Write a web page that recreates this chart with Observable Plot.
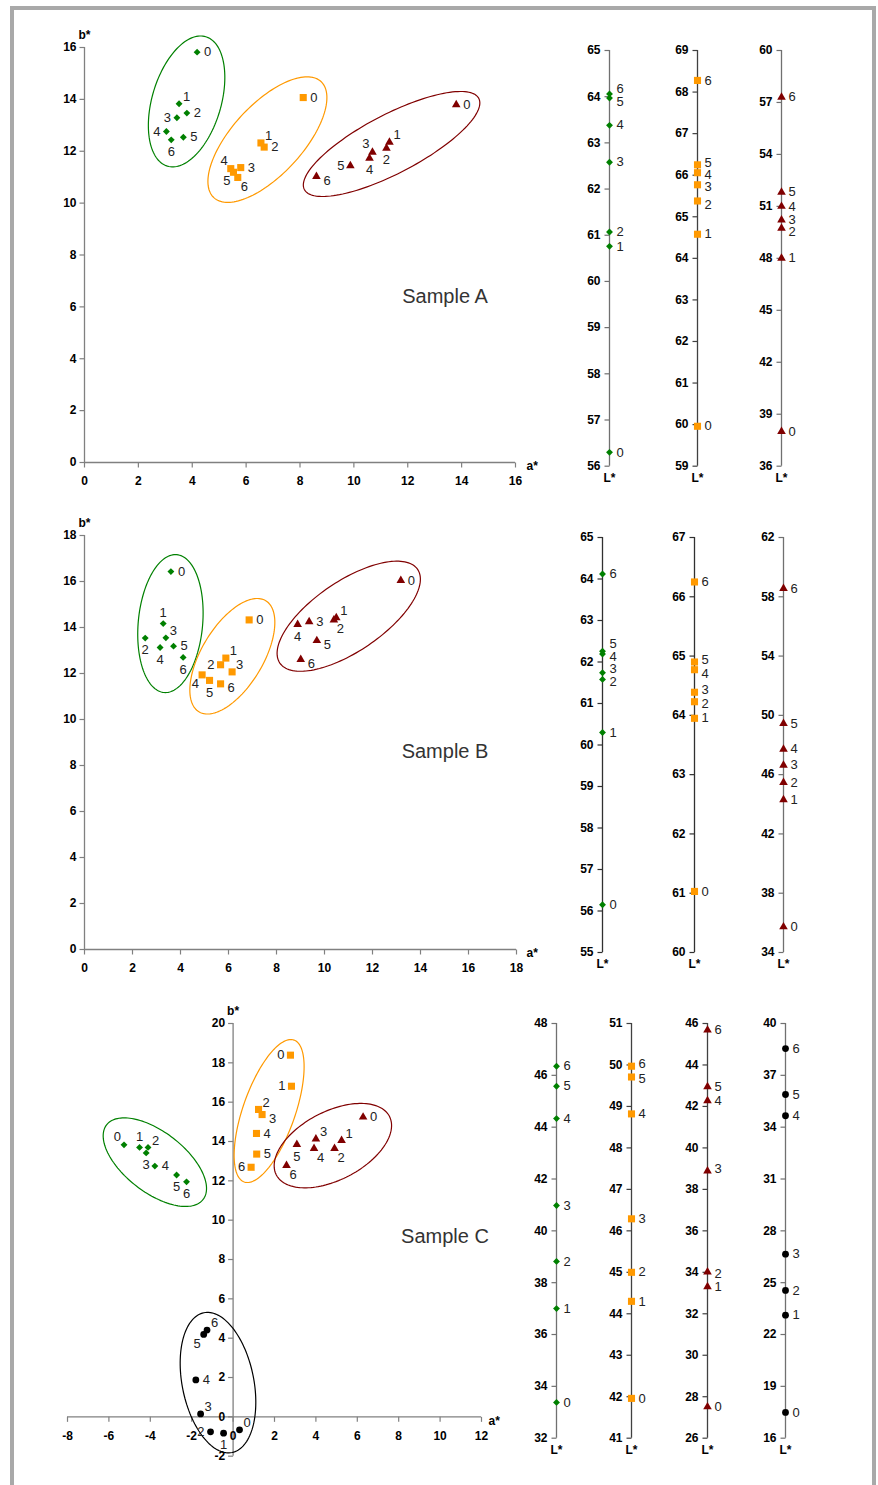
<!DOCTYPE html>
<html><head><meta charset="utf-8">
<script src="https://cdn.jsdelivr.net/npm/d3@7"></script>
<script src="https://cdn.jsdelivr.net/npm/@observablehq/plot@0.6"></script>
<style>
body{margin:0;background:#fff;font-family:"Liberation Sans",Arial,sans-serif;}
#page{position:relative;width:878px;height:1485px;overflow:hidden;background:#fff}
.frame{position:absolute;left:10px;top:6px;width:866px;height:1520px;border:4px solid #a9a9a9;box-sizing:border-box}
.panel{position:absolute}
.panel svg{max-width:none!important;overflow:visible}
.sample{position:absolute;font-size:20px;color:#333;transform:translate(-50%,-50%);white-space:nowrap}
</style></head><body><div id="page"><div class="frame"></div></div>
<script>
// ---------------- DATA ----------------
const pointLabels = ["0","1","2","3","4","5","6"];

// Sample A (a*, b*, L*)
const A_green_a  = [4.18,3.51,3.80,3.43,3.04,3.67,3.22];
const A_green_b  = [15.82,13.83,13.47,13.29,12.76,12.54,12.44];
const A_orange_a = [8.12,6.55,6.67,5.80,5.43,5.53,5.69];
const A_orange_b = [14.07,12.32,12.16,11.37,11.33,11.19,10.99];
const A_red_a    = [13.80,11.32,11.21,10.69,10.58,9.87,8.61];
const A_red_b    = [13.79,12.35,12.12,11.96,11.73,11.44,11.03];
const A_green_L  = [56.30,60.76,61.07,62.58,63.38,63.97,64.06];
const A_orange_L = [59.96,64.58,65.38,65.77,66.06,66.25,68.28];
const A_red_L    = [38.0,48.01,49.74,50.22,51.0,51.82,57.3];

// Sample B
const B_green_a  = [3.60,3.28,2.53,3.39,3.15,3.71,4.11];
const B_green_b  = [16.43,14.17,13.54,13.55,13.13,13.19,12.70];
const B_orange_a = [6.86,5.89,5.67,6.15,4.90,5.21,5.67];
const B_orange_b = [14.33,12.67,12.38,12.07,11.94,11.70,11.55];
const B_red_a    = [13.18,10.49,10.39,9.36,8.88,9.68,9.01];
const B_red_b    = [16.04,14.42,14.33,14.25,14.13,13.43,12.61];
const B_green_L  = [56.15,60.30,61.58,61.74,62.19,62.26,64.12];
const B_orange_L = [61.03,63.95,64.23,64.39,64.77,64.90,66.25];
const B_red_L    = [35.73,44.30,45.47,46.64,47.72,49.45,58.56];

// Sample C
const C_green_a  = [-5.27,-4.52,-4.11,-4.20,-3.78,-2.73,-2.25];
const C_green_b  = [13.83,13.70,13.70,13.42,12.75,12.30,11.95];
const C_orange_a = [2.77,2.82,1.23,1.40,1.13,1.14,0.87];
const C_orange_b = [18.39,16.81,15.63,15.37,14.41,13.36,12.69];
const C_red_a    = [6.28,5.24,4.90,4.00,3.91,3.08,2.58];
const C_red_b    = [15.24,14.05,13.64,14.13,13.64,13.85,12.78];
const C_black_a  = [0.31,-0.46,-1.09,-1.57,-1.80,-1.42,-1.26];
const C_black_b  = [-0.66,-0.83,-0.76,0.15,1.88,4.19,4.41];
const C_green_L  = [33.38,37.00,38.82,40.98,44.33,45.58,46.35];
const C_orange_L = [41.96,44.30,45.00,46.29,48.82,49.71,49.97];
const C_red_L    = [27.51,33.30,34.02,38.89,42.27,42.95,45.68];
const C_black_L  = [17.49,23.12,24.55,26.65,34.66,35.89,38.55];

// Tick labels
const A_a_ticks = [0,2,4,6,8,10,12,14,16];
const A_b_ticks = [0,2,4,6,8,10,12,14,16];
const B_a_ticks = [0,2,4,6,8,10,12,14,16,18];
const B_b_ticks = [0,2,4,6,8,10,12,14,16,18];
const C_a_ticks = [-8,-6,-4,-2,0,2,4,6,8,10,12];
const C_b_ticks = [-2,0,2,4,6,8,10,12,14,16,18,20];
const A_L_ticks = [[56,57,58,59,60,61,62,63,64,65],[59,60,61,62,63,64,65,66,67,68,69],[36,39,42,45,48,51,54,57,60]];
const B_L_ticks = [[55,56,57,58,59,60,61,62,63,64,65],[60,61,62,63,64,65,66,67],[34,38,42,46,50,54,58,62]];
const C_L_ticks = [[32,34,36,38,40,42,44,46,48],[41,42,43,44,45,46,47,48,49,50,51],[26,28,30,32,34,36,38,40,42,44,46],[16,19,22,25,28,31,34,37,40]];

// Label placement (relative to marker)
const A_green_pos  = ["r","tr","r","l","l","r","b"];
const A_orange_pos = ["r","tr","r","r","tl","bl","br"];
const A_red_pos    = ["r","tr","b","tl","b","l","rd"];
const B_green_pos  = ["r","t","b","tr","b","r","b"];
const B_orange_pos = ["r","tr","l","tr","bl","b","rd"];
const B_red_pos    = ["r","tr","br","r","b","rd","rd"];
const C_green_pos  = ["tl","t","tr","b","r","b","b"];
const C_orange_pos = ["l","l","tr","rd","r","r","l"];
const C_red_pos    = ["r","tr","br","tr","br","b","br"];
const C_black_pos  = ["tr","b","l","tr","r","bl","tr"];
const A_L_pos = [["r","r","r","r","r","rd","ru"],["r","r","rd","rd1","rd1","ru1","r"],["r","r","rd","r","r","r","r"]];
const B_L_pos = [["r","r","rd1","ru3","rd3","ru2","r"],["r","r","rd1","ru1","rd","ru1","r"],["r","r","r","r","r","r","r"]];
const C_L_pos = [["r","r","r","r","r","r","r"],["r","r","r","r","r","rd1","ru1"],["r","r","rd1","ru1","r","r","r"],["r","r","r","r","r","r","r"]];

// Cluster ellipses: centre (a*, b*), semi-axes (px), rotation (deg)
const A_ellipses = [
  {a:3.79,b:13.92,rx:67.5,ry:34.5,rot:-73.5,color:"green"},
  {a:6.79,b:12.45,rx:79,ry:35.2,rot:-47.3,color:"orange"},
  {a:11.40,b:12.28,rx:98.4,ry:29.4,rot:-27.6,color:"red"}];
const B_ellipses = [
  {a:3.58,b:14.17,rx:69.2,ry:32.2,rot:-84.7,color:"green"},
  {a:6.16,b:12.75,rx:64.8,ry:30.7,rot:-59,color:"orange"},
  {a:11.01,b:14.49,rx:83.3,ry:35,rot:-34.2,color:"red"}];
const C_ellipses = [
  {a:-3.78,b:12.95,rx:61,ry:30.2,rot:37.7,color:"green"},
  {a:1.74,b:15.55,rx:75.2,ry:26.1,rot:-70.7,color:"orange"},
  {a:4.82,b:13.79,rx:63.7,ry:34.2,rot:-27.4,color:"red"},
  {a:-0.73,b:1.74,rx:71.3,ry:35.8,rot:78.6,color:"black"}];

// ---------------- STYLE ----------------
const FONT = '"Liberation Sans", Arial, sans-serif';
const COLORS = {green:"#008000", orange:"#ff9900", red:"#800000", black:"#000000"};
const SYMS = {green:["diamond2",3.1], orange:["square",4], red:["triangle",3.2], black:["circle",3.4]};
const AXIS = "#808080";
const TICKFS = 12, LABELFS = 13;
const OFF = {r:[7,0,"start"], l:[-6,0,"end"], t:[0,-11,"middle"], b:[0,12,"middle"],
  tr:[4,-7,"start"], br:[3,9,"start"], tl:[-3,-8,"end"], bl:[-3,9,"end"],
  ru:[7,-5,"start"], rd:[7,4,"start"], ru1:[7,-2,"start"], rd1:[7,2,"start"],
  ru2:[7,-7,"start"], ru3:[7,-3.5,"start"], rd3:[7,3,"start"]};

const tickDown = {draw(c){c.moveTo(0,0);c.lineTo(0,5);}};
const tickLeft = {draw(c){c.moveTo(0,0);c.lineTo(-5,0);}};
function ellipseSym(rx, ry, rot){
  const t = rot*Math.PI/180, cs = Math.cos(t), sn = Math.sin(t);
  return {draw(ctx){
    for (let i = 0; i <= 144; i++){
      const u = i/144*2*Math.PI;
      const x = rx*Math.cos(u)*cs - ry*Math.sin(u)*sn;
      const y = rx*Math.cos(u)*sn + ry*Math.sin(u)*cs;
      i ? ctx.lineTo(x,y) : ctx.moveTo(x,y);
    }
    ctx.closePath();
  }};
}
function labelMarks(data, xAcc, yAcc){
  return Object.entries(OFF).map(([k,[dx,dy,anchor]]) =>
    Plot.text(data.filter(d => d.pos === k), {x: xAcc, y: yAcc, text: "label", dx, dy,
      textAnchor: anchor, fontSize: LABELFS, fill: "#222"}));
}
const page = document.getElementById("page");
function place(svg, left, top, w){
  const div = document.createElement("div");
  div.className = "panel";
  div.style.left = left + "px"; div.style.top = top + "px"; div.style.width = w + "px";
  div.appendChild(svg); page.appendChild(div);
}

function scatter({xL, xR, yT, yB, xDomain, yDomain, xTicks, yTicks, series, ellipses, aDx}){
  const ml = 45, mr = 45, mt = 25, mb = 30;
  const width = ml + (xR - xL) + mr, height = mt + (yB - yT) + mb;
  const marks = [];
  marks.push(Plot.ruleX([0], {stroke: AXIS, strokeWidth: 1.3}));
  marks.push(Plot.ruleY([0], {stroke: AXIS, strokeWidth: 1.3}));
  marks.push(Plot.dot(xTicks, {x: d => d, y: () => 0, symbol: tickDown, fill: "none", stroke: AXIS, strokeWidth: 1.2}));
  marks.push(Plot.dot(yTicks, {x: () => 0, y: d => d, symbol: tickLeft, fill: "none", stroke: AXIS, strokeWidth: 1.2}));
  marks.push(Plot.text(xTicks, {x: d => d, y: () => 0, text: d => String(d), dy: 19, fontWeight: "bold", fontSize: TICKFS, fill: "#000"}));
  marks.push(Plot.text(yTicks, {x: () => 0, y: d => d, text: d => String(d), dx: -8, textAnchor: "end", fontWeight: "bold", fontSize: TICKFS, fill: "#000"}));
  marks.push(Plot.text(["a*"], {x: () => xDomain[1], y: () => 0, text: d => d, dx: aDx, dy: 4, textAnchor: "start", fontWeight: "bold", fontSize: TICKFS}));
  marks.push(Plot.text(["b*"], {x: () => 0, y: () => yDomain[1], text: d => d, dy: -12, fontWeight: "bold", fontSize: TICKFS}));
  for (const e of ellipses){
    marks.push(Plot.dot([e], {x: "a", y: "b", symbol: ellipseSym(e.rx, e.ry, e.rot), r: 5,
      fill: "none", stroke: COLORS[e.color], strokeWidth: 1.2}));
  }
  for (const s of series){
    const data = s.a.map((a, i) => ({a, b: s.b[i], label: pointLabels[i], pos: s.pos[i]}));
    const [sym, r] = SYMS[s.color];
    marks.push(Plot.dot(data, {x: "a", y: "b", symbol: sym, r, fill: COLORS[s.color], stroke: "none"}));
    marks.push(...labelMarks(data, "a", "b"));
  }
  const svg = Plot.plot({width, height, marginLeft: ml, marginRight: mr, marginTop: mt, marginBottom: mb,
    x: {domain: xDomain, axis: null}, y: {domain: yDomain, axis: null},
    style: {fontFamily: FONT, background: "transparent", overflow: "visible"}, marks});
  place(svg, xL - ml, yT - mt, width);
}

function lstar({axisX, yT, yB, domain, ticks, values, pos, color, axisColor}){
  const ml = 40, mr = 30, mt = 12, mb = 25;
  const width = ml + mr + 10, height = mt + (yB - yT) + mb;
  const data = values.map((L, i) => ({L, label: pointLabels[i], pos: pos[i]}));
  const [sym, r] = SYMS[color];
  const marks = [
    Plot.ruleX([0], {stroke: axisColor, strokeWidth: 1.3}),
    Plot.dot(ticks, {x: () => 0, y: d => d, symbol: tickLeft, fill: "none", stroke: axisColor, strokeWidth: 1.2}),
    Plot.text(ticks, {x: () => 0, y: d => d, text: d => String(d), dx: -9, textAnchor: "end", fontWeight: "bold", fontSize: TICKFS, fill: "#000"}),
    Plot.text(["L*"], {x: () => 0, y: () => domain[0], text: d => d, dy: 12, fontWeight: "bold", fontSize: TICKFS}),
    Plot.dot(data, {x: () => 0, y: "L", symbol: sym, r, fill: COLORS[color], stroke: "none"}),
    ...labelMarks(data, () => 0, "L")
  ];
  const svg = Plot.plot({width, height, marginLeft: ml, marginRight: mr, marginTop: mt, marginBottom: mb,
    x: {domain: [0, 1], axis: null}, y: {domain, axis: null},
    style: {fontFamily: FONT, background: "transparent", overflow: "visible"}, marks});
  place(svg, axisX - ml, yT - mt, width);
}

function sampleLabel(text, x, y){
  const d = document.createElement("div");
  d.className = "sample"; d.textContent = text;
  d.style.left = x + "px"; d.style.top = y + "px";
  page.appendChild(d);
}

// ---------------- SAMPLE A ----------------
scatter({xL: 84, xR: 515, yT: 47, yB: 462, xDomain: [0,16], yDomain: [0,16], xTicks: A_a_ticks, yTicks: A_b_ticks, aDx: 11,
  ellipses: A_ellipses,
  series: [{a: A_green_a, b: A_green_b, pos: A_green_pos, color: "green"},
           {a: A_orange_a, b: A_orange_b, pos: A_orange_pos, color: "orange"},
           {a: A_red_a, b: A_red_b, pos: A_red_pos, color: "red"}]});
sampleLabel("Sample A", 445, 296);
lstar({axisX: 609.3, yT: 50, yB: 465.7, domain: [56,65], ticks: A_L_ticks[0], values: A_green_L, pos: A_L_pos[0], color: "green", axisColor: "#707070"});
lstar({axisX: 697, yT: 50, yB: 465.7, domain: [59,69], ticks: A_L_ticks[1], values: A_orange_L, pos: A_L_pos[1], color: "orange", axisColor: "#404040"});
lstar({axisX: 780.7, yT: 50, yB: 465.7, domain: [36,60], ticks: A_L_ticks[2], values: A_red_L, pos: A_L_pos[2], color: "red", axisColor: "#707070"});

// ---------------- SAMPLE B ----------------
scatter({xL: 84, xR: 516, yT: 535, yB: 949, xDomain: [0,18], yDomain: [0,18], xTicks: B_a_ticks, yTicks: B_b_ticks, aDx: 10,
  ellipses: B_ellipses,
  series: [{a: B_green_a, b: B_green_b, pos: B_green_pos, color: "green"},
           {a: B_orange_a, b: B_orange_b, pos: B_orange_pos, color: "orange"},
           {a: B_red_a, b: B_red_b, pos: B_red_pos, color: "red"}]});
sampleLabel("Sample B", 445, 751);
lstar({axisX: 601.7, yT: 536.7, yB: 951.7, domain: [55,65], ticks: B_L_ticks[0], values: B_green_L, pos: B_L_pos[0], color: "green", axisColor: "#303030"});
lstar({axisX: 694.3, yT: 536.7, yB: 951.7, domain: [60,67], ticks: B_L_ticks[1], values: B_orange_L, pos: B_L_pos[1], color: "orange", axisColor: "#303030"});
lstar({axisX: 783.3, yT: 536.7, yB: 951.7, domain: [34,62], ticks: B_L_ticks[2], values: B_red_L, pos: B_L_pos[2], color: "red", axisColor: "#707070"});

// ---------------- SAMPLE C ----------------
scatter({xL: 66.7, xR: 480.7, yT: 1023.3, yB: 1456, xDomain: [-8,12], yDomain: [-2,20], xTicks: C_a_ticks, yTicks: C_b_ticks, aDx: 7,
  ellipses: C_ellipses,
  series: [{a: C_green_a, b: C_green_b, pos: C_green_pos, color: "green"},
           {a: C_orange_a, b: C_orange_b, pos: C_orange_pos, color: "orange"},
           {a: C_red_a, b: C_red_b, pos: C_red_pos, color: "red"},
           {a: C_black_a, b: C_black_b, pos: C_black_pos, color: "black"}]});
sampleLabel("Sample C", 445, 1236);
lstar({axisX: 555.7, yT: 1023.3, yB: 1438, domain: [32,48], ticks: C_L_ticks[0], values: C_green_L, pos: C_L_pos[0], color: "green", axisColor: "#707070"});
lstar({axisX: 631.3, yT: 1023.3, yB: 1438, domain: [41,51], ticks: C_L_ticks[1], values: C_orange_L, pos: C_L_pos[1], color: "orange", axisColor: "#404040"});
lstar({axisX: 706.7, yT: 1023.3, yB: 1438, domain: [26,46], ticks: C_L_ticks[2], values: C_red_L, pos: C_L_pos[2], color: "red", axisColor: "#404040"});
lstar({axisX: 785.3, yT: 1023.3, yB: 1438, domain: [16,40], ticks: C_L_ticks[3], values: C_black_L, pos: C_L_pos[3], color: "black", axisColor: "#707070"});
</script></body></html>
